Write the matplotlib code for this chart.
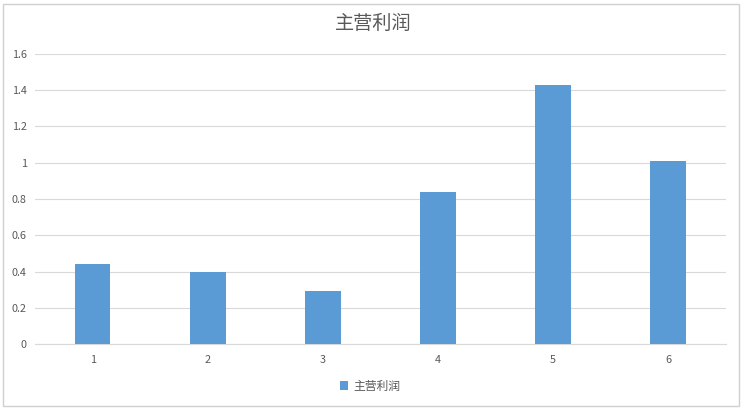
import matplotlib.pyplot as plt
from matplotlib.patches import Rectangle

plt.rcParams['font.family'] = ['Noto Sans CJK SC', 'DejaVu Sans']

categories = ['1', '2', '3', '4', '5', '6']
profit = [0.44, 0.40, 0.29, 0.84, 1.43, 1.01]
yticks = [0, 0.2, 0.4, 0.6, 0.8, 1, 1.2, 1.4, 1.6]
ytick_labels = ['0', '0.2', '0.4', '0.6', '0.8', '1', '1.2', '1.4', '1.6']

text_color = '#595959'
grid_color = '#D9D9D9'

fig = plt.figure(figsize=(7.46, 4.12), dpi=100)
fig.patches.append(Rectangle((0.004, 0.015), 0.987, 0.975, transform=fig.transFigure,
                             fill=False, edgecolor='#D0D0D0', linewidth=1))

ax = fig.add_axes([0.047, 0.165, 0.926, 0.704])
x = list(range(len(categories)))
ax.bar(x, profit, width=0.31, color='#5B9BD5', label='主营利润', zorder=3)

ax.set_xlim(-0.5, len(categories) - 0.5)
ax.set_ylim(0, 1.6)
ax.set_xticks(x)
ax.set_xticklabels(categories)
ax.set_yticks(yticks)
ax.set_yticklabels(ytick_labels)
ax.tick_params(axis='both', length=0, labelsize=7.8, colors=text_color, pad=8)
ax.tick_params(axis='y', pad=6)
ax.grid(axis='y', color=grid_color, linewidth=0.8, zorder=0)
for side in ['top', 'right', 'left']:
    ax.spines[side].set_visible(False)
ax.spines['bottom'].set_color(grid_color)
ax.spines['bottom'].set_linewidth(0.8)

fig.text(0.5, 0.942, '主营利润', ha='center', va='center', fontsize=13.8, color=text_color)
fig.legend(loc='center', bbox_to_anchor=(0.496, 0.063), frameon=False, fontsize=8.5,
           labelcolor=text_color, handlelength=0.7, handleheight=0.7, handletextpad=0.4)

fig.savefig('out.png', dpi=100, facecolor='white')
